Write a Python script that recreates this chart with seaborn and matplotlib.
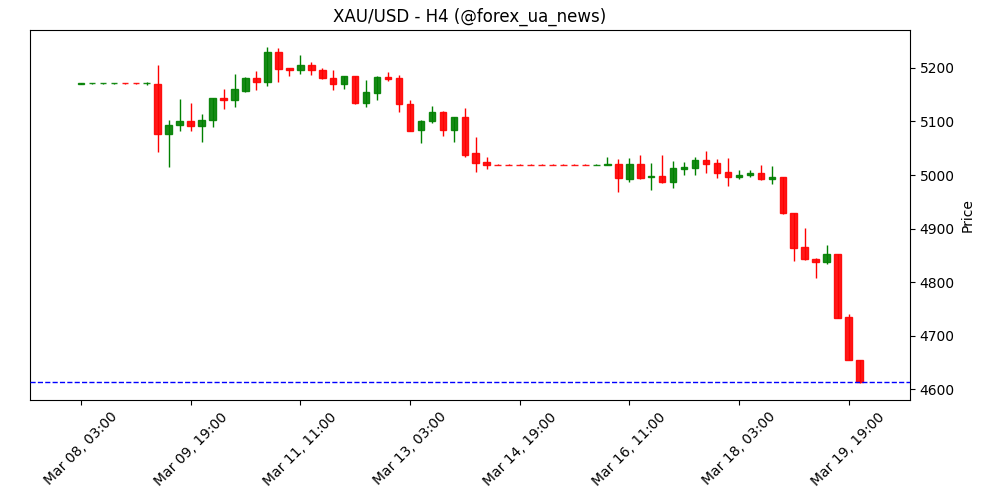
import numpy as np
import pandas as pd
import matplotlib
matplotlib.use("Agg")
import matplotlib.pyplot as plt
import seaborn as sns

title = "XAU/USD - H4 (@forex_ua_news)"
start_time = "2026-03-08 03:00"

opens = [5171.0, 5171.2, 5171.3, 5171.4, 5171.5, 5171.3, 5171.1, 5171.0, 5076.0, 5093.0,
         5101.0, 5091.0, 5102.0, 5144.0, 5141.0, 5157.6, 5181.0, 5174.5, 5230.0, 5200.0,
         5197.0, 5205.6, 5196.0, 5181.0, 5170.7, 5185.0, 5135.0, 5154.0, 5184.0, 5181.0,
         5133.0, 5085.0, 5100.0, 5118.0, 5085.0, 5108.5, 5041.0, 5024.5, 5019.6, 5019.6,
         5019.6, 5019.6, 5019.6, 5019.6, 5019.6, 5019.6, 5019.6, 5019.4, 5019.5, 5020.7,
         4993.0, 5020.7, 4996.0, 4998.0, 4986.0, 5012.0, 5014.0, 5028.0, 5022.0, 5006.0,
         4997.0, 5000.0, 5004.0, 4992.0, 4996.5, 4929.0, 4866.0, 4843.0, 4837.0, 4852.5,
         4735.0, 4654.7]
highs = [5171.5, 5171.7, 5171.8, 5171.9, 5172.0, 5171.8, 5174.0, 5205.6, 5102.0, 5141.5,
         5134.0, 5113.5, 5144.5, 5160.0, 5189.0, 5183.0, 5194.0, 5238.6, 5237.0, 5200.5,
         5223.7, 5210.6, 5199.4, 5195.6, 5185.5, 5185.5, 5177.0, 5185.5, 5192.0, 5187.0,
         5139.6, 5103.0, 5129.0, 5119.0, 5109.0, 5124.7, 5070.6, 5033.0, 5019.8, 5019.8,
         5019.8, 5019.8, 5019.8, 5019.8, 5019.8, 5019.8, 5019.8, 5019.8, 5034.0, 5029.5,
         5031.5, 5037.0, 5022.0, 5037.5, 5026.0, 5024.0, 5033.0, 5045.0, 5029.5, 5031.5,
         5009.0, 5009.5, 5018.0, 5016.5, 4997.0, 4929.5, 4900.7, 4844.0, 4869.0, 4853.0,
         4740.0, 4655.0]
lows = [5170.5, 5170.8, 5170.9, 5171.0, 5171.0, 5170.9, 5167.7, 5042.6, 5014.6, 5082.0,
        5082.0, 5061.0, 5089.0, 5123.0, 5126.6, 5156.0, 5158.0, 5166.0, 5173.0, 5184.5,
        5188.0, 5186.0, 5180.0, 5158.0, 5160.0, 5133.4, 5126.6, 5139.6, 5175.0, 5117.0,
        5082.0, 5059.0, 5098.0, 5072.5, 5061.0, 5033.0, 5005.0, 5011.0, 5019.2, 5019.2,
        5019.2, 5019.2, 5019.2, 5019.2, 5019.2, 5019.2, 5019.2, 5019.2, 5019.0, 4968.0,
        4986.6, 4993.0, 4971.6, 4985.0, 4976.5, 5000.0, 5000.0, 5003.5, 4994.0, 4979.0,
        4992.0, 4996.0, 4990.0, 4983.0, 4928.0, 4839.0, 4842.0, 4806.6, 4834.6, 4733.0,
        4653.5, 4611.0]
closes = [5171.2, 5171.3, 5171.4, 5171.5, 5171.3, 5171.1, 5172.0, 5076.0, 5093.0, 5101.0,
          5091.0, 5102.0, 5144.0, 5141.0, 5161.0, 5181.0, 5174.5, 5230.0, 5199.0, 5197.0,
          5205.6, 5195.7, 5181.0, 5171.0, 5185.0, 5135.0, 5155.0, 5183.0, 5180.0, 5132.0,
          5083.0, 5101.0, 5118.0, 5085.0, 5108.5, 5038.0, 5022.0, 5019.5, 5019.4, 5019.4,
          5019.4, 5019.4, 5019.4, 5019.4, 5019.4, 5019.4, 5019.4, 5019.6, 5020.5, 4995.0,
          5020.7, 4995.0, 4998.0, 4986.0, 5013.0, 5015.0, 5028.0, 5021.0, 5004.5, 4997.0,
          5000.0, 5004.0, 4992.0, 4996.5, 4928.7, 4864.0, 4843.0, 4837.0, 4852.5, 4733.6,
          4654.0, 4612.3]
last_price = 4612.3
tick_step = 10

sns.set_theme(style="ticks", rc={
    "axes.edgecolor": "black", "axes.labelcolor": "black", "text.color": "black",
    "xtick.color": "black", "ytick.color": "black", "font.size": 10,
    "axes.titlesize": 12, "axes.labelsize": 10, "xtick.labelsize": 10, "ytick.labelsize": 10,
    "axes.linewidth": 0.8,
    "xtick.major.size": 3.5, "ytick.major.size": 3.5,
    "xtick.major.width": 0.8, "ytick.major.width": 0.8,
    "xtick.major.pad": 3.5, "ytick.major.pad": 3.5,
    "axes.titlepad": 6.0, "axes.labelpad": 4.0,
})
plt.rcParams["font.family"] = ["DejaVu Sans"]

times = pd.date_range(start_time, periods=len(opens), freq="4h")
df = pd.DataFrame({"t": times, "open": opens, "high": highs, "low": lows, "close": closes})
df["x"] = np.arange(len(df))
df["up"] = df["close"] >= df["open"]
df["color"] = np.where(df["up"], "#008000", "#ff0000")

fig = plt.figure(figsize=(10, 5), dpi=100)
ax = fig.add_axes([0.03, 0.2, 0.88, 0.74])

ax.vlines(df["x"], df["low"], df["high"], colors=df["color"], linewidth=1.0, zorder=2)
ax.bar(df["x"], df["close"] - df["open"], bottom=df["open"], width=0.6,
       color=df["color"], edgecolor=df["color"], linewidth=1.0, alpha=0.9, zorder=3)

ax.axhline(last_price, color="blue", linestyle="--", linewidth=1.0, zorder=4)

ax.set_xlim(-4.65, 75.6)
ax.set_ylim(4579.5, 5271)
ticks = df["x"].iloc[::tick_step]
ax.set_xticks(ticks)
ax.set_xticklabels([t.strftime("%b %d, %H:%M") for t in df["t"].iloc[::tick_step]], rotation=45)
ax.yaxis.tick_right()
ax.yaxis.set_label_position("right")
ax.set_ylabel("Price")
ax.set_title(title)
ax.set_yticks([4600, 4700, 4800, 4900, 5000, 5100, 5200])
for s in ax.spines.values():
    s.set_visible(True)

fig.savefig("out.png", dpi=100)
